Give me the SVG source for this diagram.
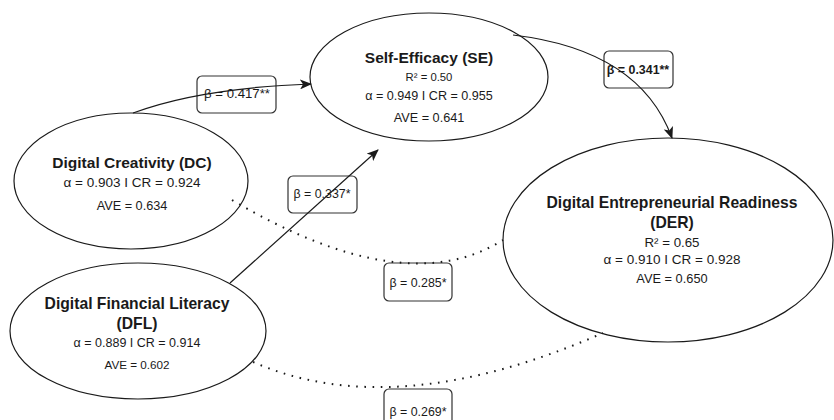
<svg xmlns="http://www.w3.org/2000/svg" width="834" height="420" viewBox="0 0 834 420">
<style>
.node{fill:#ffffff;stroke:#1a1a1a;stroke-width:1.2}
.t{font-family:"Liberation Sans",Arial,sans-serif;fill:#1a1a1a;text-anchor:middle}
.b{font-weight:bold}
.lbl{fill:none;stroke:#333;stroke-width:1.2}
.solid{fill:none;stroke:#1a1a1a;stroke-width:1.2}
.dot{fill:none;stroke:#1a1a1a;stroke-width:2;stroke-dasharray:1.6 6.6;stroke-linecap:butt}
</style>
<defs>
<marker id="arr" viewBox="0 0 12 10" refX="11" refY="5" markerWidth="12" markerHeight="10" markerUnits="userSpaceOnUse" orient="auto">
<path d="M0,0 L12,5 L0,10 L3,5 Z" fill="#1a1a1a"/>
</marker>
</defs>
<rect width="834" height="420" fill="#ffffff"/>

<g id="DC">
<ellipse class="node" cx="131" cy="181" rx="117" ry="68"/>
<text class="t b" x="132" y="168" font-size="15.5">Digital Creativity (DC)</text>
<text class="t" x="132" y="187" font-size="13.5">α = 0.903 I CR = 0.924</text>
<text class="t" x="132" y="210" font-size="12.7">AVE = 0.634</text>
</g>

<g id="SE">
<ellipse class="node" cx="429" cy="77" rx="119" ry="64"/>
<text class="t b" x="429" y="63" font-size="15.5">Self-Efficacy (SE)</text>
<text class="t" x="429" y="81" font-size="11.3">R² = 0.50</text>
<text class="t" x="429" y="100" font-size="12.6">α = 0.949 I CR = 0.955</text>
<text class="t" x="429" y="122" font-size="12.7">AVE = 0.641</text>
</g>

<g id="DER">
<ellipse class="node" cx="668" cy="240" rx="165" ry="102"/>
<text class="t b" x="672" y="208" font-size="15.7">Digital Entrepreneurial Readiness</text>
<text class="t b" x="672" y="228" font-size="15.7">(DER)</text>
<text class="t" x="672" y="247" font-size="13.3">R² = 0.65</text>
<text class="t" x="672" y="264" font-size="13.5">α = 0.910 I CR = 0.928</text>
<text class="t" x="672" y="283" font-size="12.8">AVE = 0.650</text>
</g>

<g id="DFL">
<ellipse class="node" cx="138" cy="331" rx="128" ry="68"/>
<text class="t b" x="137" y="309" font-size="15.7">Digital Financial Literacy</text>
<text class="t b" x="137" y="329" font-size="15.7">(DFL)</text>
<text class="t" x="137" y="347" font-size="12.5">α = 0.889 I CR = 0.914</text>
<text class="t" x="137" y="369" font-size="11.7">AVE = 0.602</text>
</g>

<g id="labels">
<rect class="lbl" x="197" y="76" width="79" height="37" rx="5"/>
<text class="t" x="237" y="98" font-size="13.2">β = 0.417**</text>
<rect class="lbl" x="288" y="176" width="69" height="37" rx="5"/>
<text class="t" x="322" y="198" font-size="12.4">β = 0.337*</text>
<rect class="lbl" x="604" y="51" width="69" height="37" rx="5"/>
<text class="t b" x="638" y="74" font-size="12.4">β = 0.341**</text>
<rect class="lbl" x="384" y="263" width="68" height="38" rx="5"/>
<text class="t" x="418" y="287" font-size="12.4">β = 0.285*</text>
<rect class="lbl" x="384" y="389" width="68" height="38" rx="5"/>
<text class="t" x="418" y="416" font-size="12.4">β = 0.269*</text>
</g>

<g id="connectors">
<path class="solid" d="M133,113 Q200,88 311,84" marker-end="url(#arr)"/>
<path class="solid" d="M230,283 L378,150" marker-end="url(#arr)"/>
<path class="solid" d="M513,35 Q640,50 672,138" marker-end="url(#arr)"/>
<path class="dot" d="M232,200 Q405,302 503,240"/>
<path class="dot" d="M253,362 Q395,424 603,333"/>
</g>
</svg>
